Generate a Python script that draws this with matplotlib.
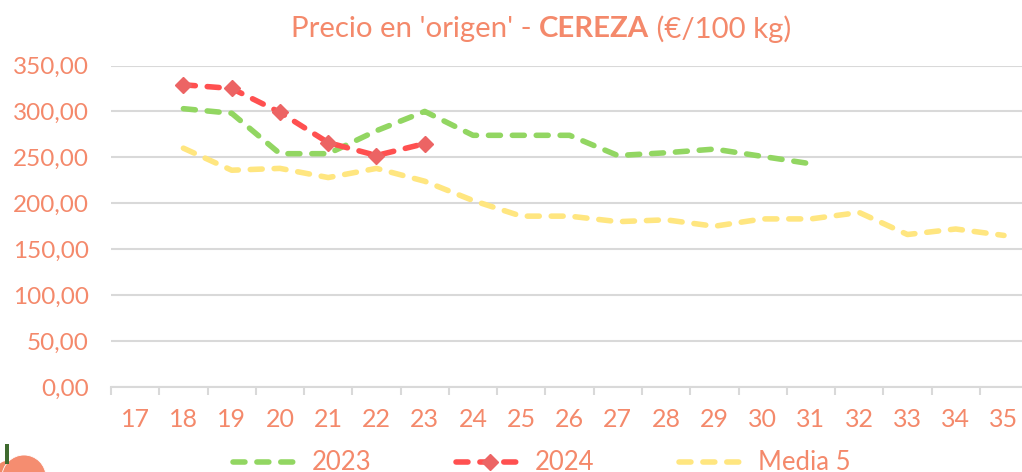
import matplotlib
matplotlib.use("Agg")
import matplotlib.pyplot as plt
from matplotlib.patches import Circle, Rectangle
from matplotlib.transforms import IdentityTransform

plt.rcParams['font.family'] = ['Lato', 'DejaVu Sans']

weeks = list(range(17, 36))
y_ticks = [0, 50, 100, 150, 200, 250, 300, 350]

weeks_2023 = list(range(18, 32))
values_2023 = [303, 298, 254, 254, 279, 300, 274, 274, 274, 252, 255, 259, 251, 243]

weeks_2024 = list(range(18, 24))
values_2024 = [329, 325, 299, 266, 252, 265]

weeks_media = list(range(18, 36))
values_media = [260, 236, 238, 228, 238, 224, 203, 186, 186, 180, 182, 175, 183, 183, 190, 166, 172, 165]

title_parts = [("Precio en 'origen' - ", "normal"), ("CEREZA", "bold"), (" (€/100 kg)", "normal")]

ORANGE = "#F4896B"
GRID = "#D9D9D9"
GREEN = "#92D662"
RED = "#FF5050"
DIAMOND = "#EC6464"
YELLOW = "#FFE680"

W, H = 1022, 472
fig = plt.figure(figsize=(W / 100, H / 100), dpi=100)
# the plot area runs past the right edge of the picture, as in the original
ax = fig.add_axes([111 / W, 1 - 387 / H, 19 * 48.27 / W, (387 - 65.5) / H])

dash = (0, (2.15, 2.15))
common = dict(lw=4, dash_capstyle="round", dash_joinstyle="round")
ax.plot(weeks_2023, values_2023, color=GREEN, ls=dash, label="2023", zorder=3, **common)
ax.plot(weeks_2024, values_2024, color=RED, ls=dash, marker="D", ms=8.5, mfc=DIAMOND, mec=DIAMOND,
        label="2024", zorder=4, **common)
ax.plot(weeks_media, values_media, color=YELLOW, ls=dash, label="Media 5", zorder=3, **common)

ax.set_xlim(16.5, 35.5)
ax.set_ylim(0, 350)
ax.set_yticks(y_ticks)
ax.set_yticklabels([f"{v},00" for v in y_ticks])
ax.set_xticks(weeks)
ax.set_xticks([w - 0.5 for w in weeks] + [35.5], minor=True)
ax.grid(axis="y", color=GRID, lw=1.5, zorder=1)
ax.set_axisbelow(True)

for side in ["top", "right", "left"]:
    ax.spines[side].set_visible(False)
ax.spines["bottom"].set_color(GRID)
ax.spines["bottom"].set_linewidth(1.5)

ax.tick_params(axis="y", length=0, pad=16, labelsize=17.5, labelcolor=ORANGE)
ax.tick_params(axis="x", which="major", length=0, pad=15, labelsize=18, labelcolor=ORANGE)
ax.tick_params(axis="x", which="minor", length=6, width=1.5, color=GRID)

fig.legend(loc="center", bbox_to_anchor=(542 / W, 1 - 463 / H), ncol=3, frameon=False,
           fontsize=18.5, labelcolor=ORANGE, handlelength=2.63, handletextpad=0.44,
           columnspacing=3.3, borderpad=0, borderaxespad=0)

# title has a bold word in the middle, so it is three texts side by side
renderer = fig.canvas.get_renderer()
x = 291
for text, weight in title_parts:
    t = fig.text(x / W, 1 - 29 / H, text, color=ORANGE, fontsize=21.2, fontweight=weight, va="center", ha="left")
    # trailing spaces are measured too
    x += t.get_window_extent(renderer).width

# peach icon, bottom left corner
px = IdentityTransform()
fig.add_artist(Circle((7, 0), 11, transform=px, color="#F08A68", lw=0))
fig.add_artist(Circle((24, -5), 22, transform=px, color="#F58D70", ec="white", lw=0.6))
fig.add_artist(Rectangle((5, 8), 4, 20, transform=px, color="#3F6B2F", lw=0))

fig.savefig("out.png", dpi=100)
